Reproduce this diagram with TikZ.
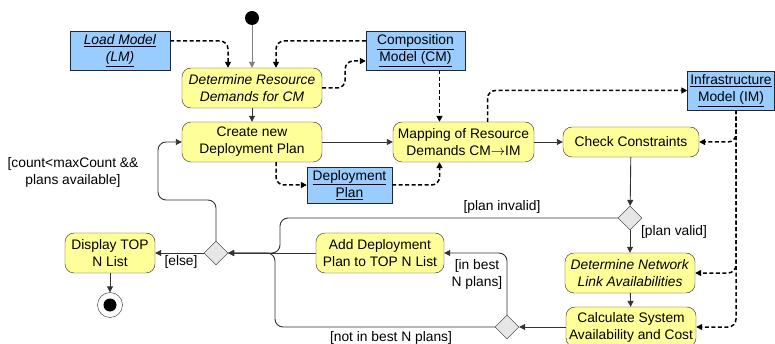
\documentclass[tikz,border=0pt]{standalone}
\usepackage{fontspec}
\setmainfont{Liberation Sans}
\usetikzlibrary{arrows.meta,shapes.geometric}

\definecolor{actfill}{HTML}{FFFF99}
\definecolor{objfill}{HTML}{99CCFF}
\definecolor{decfill}{HTML}{E6E6E6}
\definecolor{flowgray}{HTML}{333333}

\tikzset{
  action/.style={draw=black!85, fill=actfill, rounded corners=9pt, align=center, minimum height=40pt, inner sep=1pt},
  object/.style={draw=black!85, fill=objfill, align=center, inner sep=1pt},
  decision/.style={diamond, draw=black!85, fill=decfill, minimum width=24pt, minimum height=24pt, inner sep=0pt},
  flow/.style={-{Triangle[length=6pt,width=6pt]}, draw=flowgray, line width=0.9pt, rounded corners=8pt},
  objflow/.style={-{Triangle[length=6pt,width=6pt]}, black, dash pattern=on 4pt off 2.5pt, line width=1.5pt, rounded corners=8pt},
  guard/.style={align=center, inner sep=0pt}
}

\begin{document}
\begin{tikzpicture}[x=1pt, y=-1pt, font=\fontsize{13.8}{17}\selectfont]
  \useasboundingbox (0,0) rectangle (775,344);

  % initial and final node
  \node[circle, fill=black, minimum size=14pt, inner sep=0pt] (start) at (252,18) {};
  \node[circle, draw=black!85, fill=white, minimum size=25pt, inner sep=0pt,
        path picture={\fill[black] (path picture bounding box.center) circle (6.5pt);}] (end) at (110,305) {};

  % objects
  \node[object, minimum width=100pt, minimum height=39pt] (lm) at (120,50.5) {\underline{\textit{Load Model}}\\\underline{\textit{(LM)}}};
  \node[object, minimum width=99pt, minimum height=39pt] (cm) at (415.5,50.5) {\underline{Composition}\\\underline{Model (CM)}};
  \node[object, minimum width=85pt, minimum height=36pt] (dp) at (349.5,185) {\underline{Deployment}\\\underline{Plan}};
  \node[object, minimum width=87pt, minimum height=39pt] (im) at (731,90.5) {\underline{Infrastructure}\\\underline{Model (IM)}};

  % actions
  \node[action, minimum width=140pt] (detres) at (252,88) {\textit{Determine Resource}\\\textit{Demands for CM}};
  \node[action, minimum width=140pt] (create) at (252,142) {Create new\\Deployment Plan};
  \node[action, minimum width=141pt] (mapping) at (463.5,142) {Mapping of Resource\\Demands CM$\rightarrow$IM};
  \node[action, minimum width=136pt, minimum height=30pt] (check) at (631,142) {Check Constraints};
  \node[action, minimum width=130pt] (detnet) at (630,273) {\textit{Determine Network}\\\textit{Link Availabilities}};
  \node[action, minimum width=130pt] (calc) at (631,327) {Calculate System\\Availability and Cost};
  \node[action, minimum width=128pt] (adddep) at (380,253) {Add Deployment\\Plan to TOP N List};
  \node[action, minimum width=90pt] (display) at (110,253) {Display TOP\\N List};

  % decisions
  \node[decision] (dec1) at (630,218) {};
  \node[decision] (dec2) at (507,327) {};
  \node[decision] (dec3) at (216,253) {};

  % guards
  \node[guard] (invalid) at (502,207) {[plan invalid]};
  \node[guard] (valid) at (674,232) {[plan valid]};
  \node[guard] (inbest) at (477,274) {[in best\\N plans]};
  \node[guard] (notbest) at (391,338) {[not in best N plans]};
  \node[guard] (else) at (181,262) {[else]};
  \node[guard] (again) at (73,172) {[count<maxCount \&\&\\plans available]};

  % control flow
  \draw[flow, draw=gray] (start) -- (detres);
  \draw[flow] (detres) -- (create);
  \draw[flow] (create) -- (mapping);
  \draw[flow] (mapping) -- (check);
  \draw[flow] (check) -- (dec1);
  \draw[flow] (dec1) -- (detnet);
  \draw[flow] (detnet) -- (calc);
  \draw[flow] (calc) -- (dec2);
  \draw[flow] (dec2.north) |- (adddep.east);
  \draw[flow] (dec1.west) -| (280,235) |- (dec3.east);
  \draw[flow] (dec2.west) -| (275,290) |- (dec3.east);
  \draw[flow] (adddep) -- (dec3);
  \draw[flow] (dec3) -- (display);
  \draw[flow] (dec3.north) |- (158,200) |- (create.west);
  \draw[flow] (display) -- (end);

  % object flow
  \draw[objflow] ([yshift=9.5pt]lm.east) -| ([xshift=-24pt]detres.north);
  \draw[objflow] ([yshift=9.5pt]cm.west) -| ([xshift=24pt]detres.north);
  \draw[objflow] (detres.east) -- ++(23,0) |- ([yshift=-10.5pt]cm.west);
  \draw[objflow] ([xshift=-24pt]mapping.north |- cm.south) -- ([xshift=-24pt]mapping.north);
  \draw[objflow] ([xshift=24pt]mapping.north) |- (im.west);
  \draw[objflow] ([xshift=24pt]create.south) |- (dp.west);
  \draw[objflow] (dp.east) -| ([xshift=-24pt]mapping.south);
  \draw[objflow] ([xshift=5pt]im.south) |- (check.east);
  \draw[objflow] ([xshift=5pt]im.south) |- (detnet.east);
  \draw[objflow] ([xshift=5pt]im.south) |- (calc.east);
\end{tikzpicture}
\end{document}
